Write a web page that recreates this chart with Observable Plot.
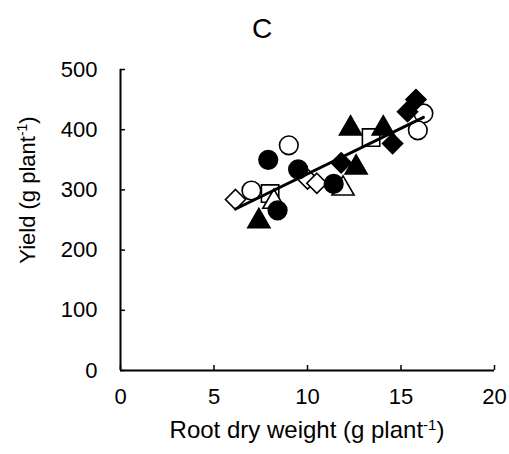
<!DOCTYPE html>
<html>
<head>
<meta charset="utf-8">
<script src="https://cdn.jsdelivr.net/npm/d3@7"></script>
<script src="https://cdn.jsdelivr.net/npm/@observablehq/plot@0.6"></script>
<style>
  html, body { margin: 0; padding: 0; background: #fff; }
  #chart { width: 509px; height: 454px; }
</style>
</head>
<body>
<div id="chart"></div>
<script>
// ---- Data ----
const title = "C";
const xLabel = "Root dry weight (g plant";
const yLabel = "Yield (g plant";
const xTicks = [0, 5, 10, 15, 20];
const yTicks = [0, 100, 200, 300, 400, 500];

const filledCircleX = [7.9, 8.4, 9.5, 11.4];
const filledCircleY = [350, 266, 334, 310];
const openCircleX = [7.0, 9.0, 16.2, 15.9];
const openCircleY = [299, 374, 427, 399];
const filledTriangleX = [7.4, 12.6, 12.3, 14.05];
const filledTriangleY = [248, 337, 402, 402];
const openTriangleX = [8.2, 11.9];
const openTriangleY = [280, 302];
const openSquareX = [8.0, 13.4];
const openSquareY = [294, 387];
const openDiamondX = [6.15, 10.0, 10.5];
const openDiamondY = [284, 318, 311];
const filledDiamondX = [11.8, 14.55, 15.35, 15.8];
const filledDiamondY = [345, 377, 430, 450];

const toRows = (xs, ys) => xs.map((x, i) => ({x, y: ys[i]}));
const filledCircle = toRows(filledCircleX, filledCircleY);
const openCircle = toRows(openCircleX, openCircleY);
const filledTriangle = toRows(filledTriangleX, filledTriangleY);
const openTriangle = toRows(openTriangleX, openTriangleY);
const openSquare = toRows(openSquareX, openSquareY);
const openDiamond = toRows(openDiamondX, openDiamondY);
const filledDiamond = toRows(filledDiamondX, filledDiamondY);
const allPoints = [...filledCircle, ...openCircle, ...filledTriangle, ...openTriangle,
  ...openSquare, ...openDiamond, ...filledDiamond];

const diamondSym = {
  draw(ctx, size) {
    const h = Math.sqrt(size / 2);
    ctx.moveTo(0, -h); ctx.lineTo(h, 0); ctx.lineTo(0, h); ctx.lineTo(-h, 0); ctx.closePath();
  }
};

const font = "'Liberation Sans', Arial, sans-serif";
const dotOpts = (symbol, r, filled) => ({
  x: "x", y: "y", symbol, r, stroke: "black", strokeWidth: 1.6, fill: filled ? "black" : "white"
});

const plot = Plot.plot({
  width: 509,
  height: 454,
  marginLeft: 120,
  marginRight: 15,
  marginTop: 69,
  marginBottom: 84,
  style: {fontFamily: font, fontSize: "22px", color: "black", background: "white", overflow: "visible"},
  x: {domain: [0, 20]},
  y: {domain: [0, 500]},
  marks: [
    Plot.axisX({ticks: xTicks, tickSize: -5, tickPadding: 23, label: null, strokeWidth: 1.5}),
    Plot.axisY({ticks: yTicks, tickSize: -5, tickPadding: 28, label: null, strokeWidth: 1.5}),
    Plot.ruleX([0], {strokeWidth: 2}),
    Plot.ruleY([0], {strokeWidth: 2}),
    Plot.dot(openDiamond, dotOpts(diamondSym, 8, false)),
    Plot.dot(openSquare, dotOpts("square", 9.8, false)),
    Plot.dot(openTriangle, dotOpts("triangle", 8.2, false)),
    Plot.dot(openCircle, dotOpts("circle", 9.3, false)),
    Plot.dot(filledCircle, dotOpts("circle", 9.3, true)),
    Plot.dot(filledTriangle, dotOpts("triangle", 8.2, true)),
    Plot.dot(filledDiamond, dotOpts(diamondSym, 8, true)),
    Plot.linearRegressionY(allPoints, {x: "x", y: "y", ci: 0, stroke: "black", strokeWidth: 3})
  ]
});

document.getElementById("chart").appendChild(plot);

// Titles with superscripts
const svg = d3.select(plot);
const xs = plot.scale("x").range;
const cx = (xs[0] + xs[1]) / 2;

svg.append("text")
  .attr("x", 262).attr("y", 38)
  .attr("text-anchor", "middle")
  .attr("font-family", font).attr("font-size", 28).attr("fill", "black")
  .text(title);

const xt = svg.append("text")
  .attr("x", cx).attr("y", 438)
  .attr("text-anchor", "middle")
  .attr("font-family", font).attr("font-size", 24).attr("fill", "black");
xt.append("tspan").text(xLabel);
xt.append("tspan").attr("dy", -8).attr("font-size", 15).text("-1");
xt.append("tspan").attr("dy", 8).text(")");

const yt = svg.append("text")
  .attr("transform", `translate(35,190) rotate(-90)`)
  .attr("text-anchor", "middle")
  .attr("font-family", font).attr("font-size", 22).attr("fill", "black");
yt.append("tspan").text(yLabel);
yt.append("tspan").attr("dy", -8).attr("font-size", 14).text("-1");
yt.append("tspan").attr("dy", 8).text(")");
</script>
</body>
</html>
